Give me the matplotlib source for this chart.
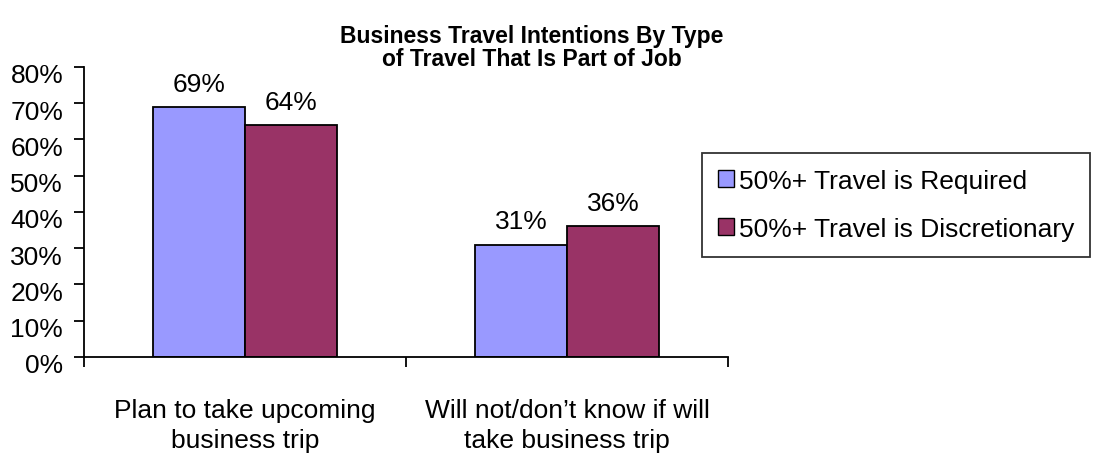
import numpy as np
import matplotlib.pyplot as plt
import matplotlib.transforms as mtransforms

plt.rcParams['font.family'] = ['Liberation Sans', 'DejaVu Sans']

categories = ["Plan to take upcoming\nbusiness trip", "Will not/don\u2019t know if will\ntake business trip"]
series_names = ["50%+ Travel is Required", "50%+ Travel is Discretionary"]
required = [69, 31]
discretionary = [64, 36]
colors = ["#9999FF", "#993366"]

fig = plt.figure(figsize=(10.95, 4.56), dpi=100)
ax = fig.add_axes([0.0767, 0.215, 0.5883, 0.636])

x = np.arange(len(categories))
w = 0.286
b1 = ax.bar(x - w / 2, required, w, color=colors[0], edgecolor="black", linewidth=1.3, label=series_names[0])
b2 = ax.bar(x + w / 2, discretionary, w, color=colors[1], edgecolor="black", linewidth=1.3, label=series_names[1])

for bars in (b1, b2):
    for r in bars:
        ax.annotate("{}%".format(int(r.get_height())), (r.get_x() + r.get_width() / 2, r.get_height()),
                    xytext=(0, 8), textcoords="offset points", ha="center", va="bottom", fontsize=19)

ax.set_xlim(-0.5, 1.5)
ax.set_ylim(0, 80)
ax.set_yticks(range(0, 81, 10))
ax.set_yticklabels(["{}%".format(v) for v in range(0, 81, 10)], fontsize=19)
ax.set_xticks([-0.5, 0.5, 1.5])
ax.set_xticklabels([])
ax.set_xticks(x, minor=True)
ax.set_xticklabels(categories, minor=True, fontsize=19, linespacing=1.32)
ax.tick_params(axis="x", which="minor", length=0, pad=29.5)
ax.tick_params(axis="x", which="major", length=7, width=1.3, direction="out")
ax.tick_params(axis="y", length=7, width=1.3, direction="out", pad=8)
# excel draws the value labels a little below their ticks (after tick_params, which resets transforms)
shift = mtransforms.ScaledTranslation(0, -6 / 100, fig.dpi_scale_trans)
for lab in ax.get_yticklabels():
    lab.set_transform(lab.get_transform() + shift)
for s in ("top", "right"):
    ax.spines[s].set_visible(False)
for s in ("left", "bottom"):
    ax.spines[s].set_linewidth(1.3)

ax.set_title("Business Travel Intentions By Type\nof Travel That Is Part of Job", fontsize=16.5,
             fontweight="bold", x=0.695, y=1.0, pad=1.5, linespacing=1.0)

leg = ax.legend(loc="upper left", bbox_to_anchor=(0.641, 0.662), bbox_transform=fig.transFigure,
                fontsize=19, frameon=True, fancybox=False, edgecolor="black",
                handlelength=0.6, handleheight=0.6, handletextpad=0.2, labelspacing=0.9,
                borderpad=0.6, borderaxespad=0)
leg.get_frame().set_linewidth(1.3)
for h in leg.legend_handles:
    h.set_linewidth(1.0)

fig.savefig("out.png", dpi=100)
